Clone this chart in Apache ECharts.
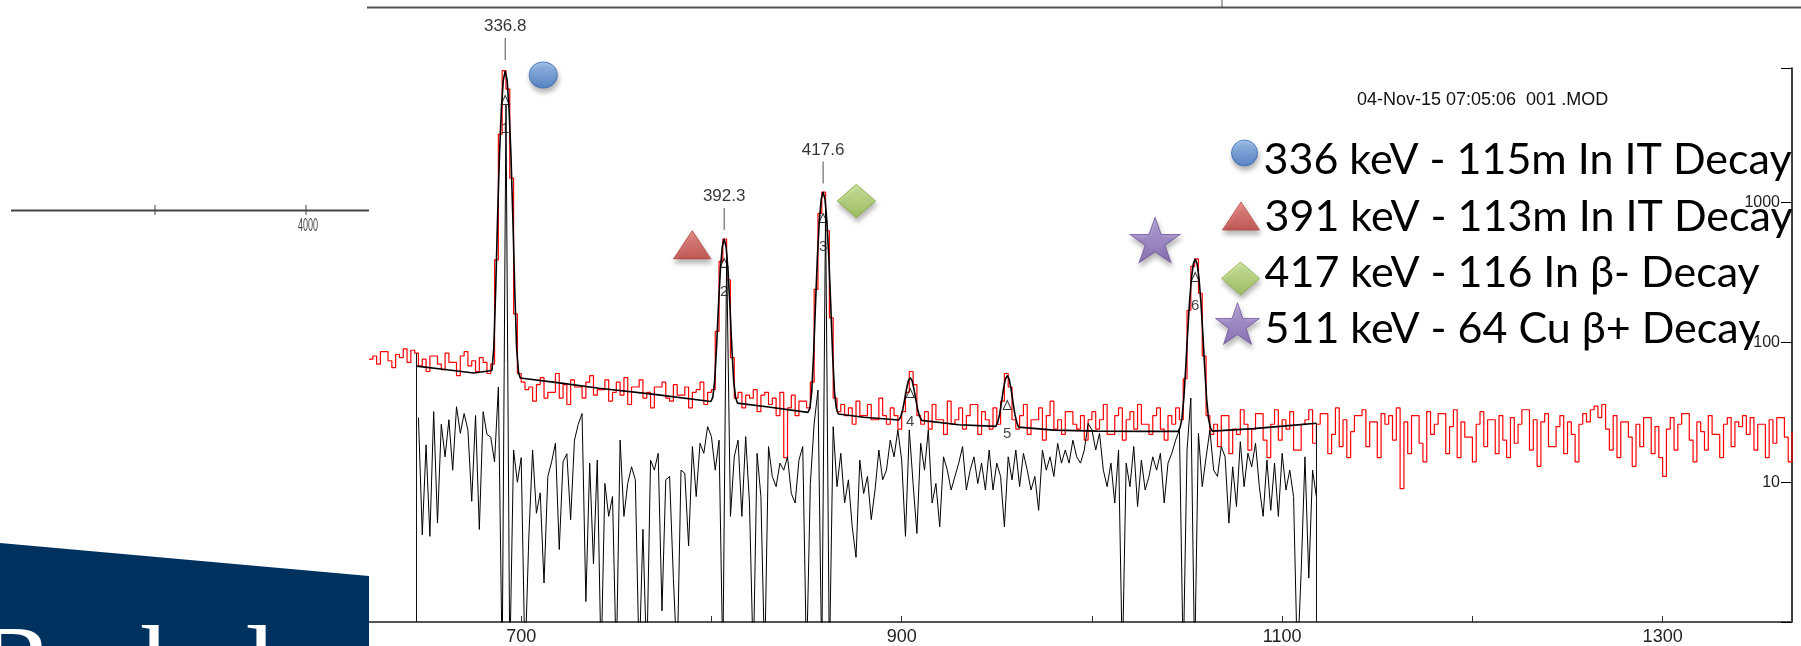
<!DOCTYPE html>
<html><head><meta charset="utf-8">
<script src="https://cdn.jsdelivr.net/npm/echarts@6/dist/echarts.min.js"></script>
<style>html,body{margin:0;padding:0;background:#fff;overflow:hidden}#c{width:1801px;height:646px}</style>
</head><body><div id="c"></div>
<script>
// ---------- data ----------
const redStart = 620, redStep = 2;   // channel of first bin, bin width (channels)
const redCounts = [
 76,80,70,86,86,74,66,82,78,90,
 72,88,84,68,76,62,80,80,70,64,
 84,72,72,58,80,86,68,74,62,78,
 72,60,70,390,3100,8800,6500,1500,160,60,
 52,46,48,38,50,56,40,44,44,60,
 40,50,36,54,48,48,40,52,58,42,
 46,46,54,38,44,52,42,56,36,48,
 48,54,40,44,34,48,48,52,40,38,
 50,42,42,48,34,44,46,52,36,44,
 46,120,380,550,280,78,40,44,34,42,
 40,46,32,42,44,36,40,30,44,15,
 34,42,30,38,38,34,
 52,240,840,1190,630,150,40,32,36,30,
 34,26,38,30,30,36,28,28,40,30,
 26,34,30,24,32,44,62,50,30,26,
 32,24,36,28,28,22,38,26,28,34,24,30,36,36,22,32,28,24,34,26,
 38,60,48,28,
 24,30,36,22,28,28,34,20,30,38,24,28,22,32,32,26,24,30,20,28,
 32,24,28,36,22,22,30,34,20,28,32,24,36,26,26,22,30,34,24,20,30,26,34,
 28,55,170,350,396,225,80,30,22,
 26,18,30,30,16,24,22,33,26,17,24,31,31,20,15,26,33,20,28,
 24,32,17,17,26,28,33,19,26,31,31,16,22,34,18,28,15,23,30,30,
 33,18,27,27,15,31,26,30,20,34,9,27,16,30,30,19,14,32,22,26,
 31,31,16,25,33,15,27,21,21,14,26,32,18,28,28,16,30,20,15,29,
 19,26,33,33,17,28,13,27,31,18,18,25,30,16,27,22,14,26,31,27,
 33,35,29,36,24,17,30,15,27,27,21,13,26,18,29,29,16,25,15,11,
 24,29,17,26,31,31,20,14,27,23,17,30,22,22,15,26,29,18,27,25,
 30,22,29,17,26,26,15,28,19,29,29,21,14,23
];
const resStart = 646, resStep = 2;
const residual = [
 29,4.2,18.5,4.1,32,5.1,26,15.2,28,12.2,
 34.7,22.4,31,23.6,7.3,30,4.6,32,22,21,
 14,48,0.5,5000,0.5,17,10,15,0.5,4,
 17,6,8.4,1.9,11,14,19,3.3,14,16,
 5.4,20,26,31,1.4,13.7,2.6,14.4,0.5,9.8,
 5.7,7.9,0.5,20,5.7,9.8,12.9,10.4,0.5,4.6,
 0.5,14.4,12.2,16.1,1.2,10.4,11,2.05,0.5,12.2,
 11.6,3.5,18,7.9,19,16.1,25,21.2,12.2,20,
 0.5,420,5.7,15.2,20,5.7,21.2,7.1,0.5,16.1,
 7.9,0.5,18,11,9.3,13.7,12.2,15.2,8.3,7.1,
 14.4,18,0.5,9.8,26.4,45.6,0.5,900,0.5,25,
 9.3,16.1,7.1,10.4,4.8,2.9,14.4,8.3,11,5.4,
 8.8,17,10.4,12.2,20,15.2,23.7,14.4,4.1,23.7,
 9.8,4.3,19,12.2,23.7,7.1,9.8,4.8,15.2,12.2,
 8.8,11,13.7,18,8.8,12.2,15.2,9.8,13.7,8.8,
 17,8.8,13.7,11,4.8,15.2,10.4,17,9.3,16.1,
 12.2,8.8,11,6.3,17,12.2,15.2,11,19,13.7,
 17,13.7,20,15.2,13.7,17,26.4,23.7,17,22.4,
 12.2,9.3,13.7,7.1,17,0.5,13.7,9.3,18,6.7,
 14.4,8.8,11,15.2,12.2,16.1,7.1,13.7,16.1,20,
 23.7,0.5,17,40,0.5,22.4,9.3,15,23.6,12.2,
 11,18,15.2,5.1,12.9,6.7,19.5,9.3,16.1,12.9,
 19,9.3,5.7,14.4,6.3,13.7,5.7,16.1,8.8,12.2,
 7.9,0.5,2.3,15.2,2.06,12.2,7.9
];
const fitCh = [645,660,675,684.6,685.6,686.6,687.6,688.6,689.6,690.6,691.6,692.6,693.6,694.6,695.6,696.6,697.6,698.6,699.5,720,741,770,
 799.7,800.7,801.7,802.7,803.7,804.7,805.7,806.7,807.7,808.7,809.7,810.7,811.7,812.7,813.7,830,
 850.7,851.7,852.7,853.7,854.7,855.7,856.7,857.7,858.7,859.7,860.7,861.7,862.7,863.7,864.7,865.7,866.7,880,
 898.5,899.5,900.5,901.5,902.5,903.5,904.5,905.5,906.5,907.5,908.5,909.5,910.5,930,
 949.5,950.5,951.5,952.5,953.5,954.5,955.5,956.5,957.5,958.5,959.5,960.5,961.5,980,1003,1030,
 1045.3,1046.3,1047.3,1048.3,1049.3,1050.3,1051.3,1052.3,1053.3,1054.3,1055.3,1056.3,1057.3,1058.3,1059.3,1060.3,1061.3,1062.3,1063.3,1085,1102,1118];
const fitCounts = [67.7,64,60.5,63,91,241,795,2227,4754,7524,8770,7524,4754,2227,795,241,91,61,55.7,51.4,47,42.5,
 37.8,40.5,53,93,184,332,484,550,484,332,184,93,53,40.5,36.8,34.5,
 31.6,33.6,44,82,188,409,736,1057,1194,1057,736,409,188,82,44,33.6,30.8,29.2,
 27.9,29.4,32.7,38.6,46.2,53.2,56,53.2,46.2,38.6,32.7,29.4,27.7,25.8,
 25.1,26.9,30.7,37.6,46.6,54.7,58,54.7,46.6,37.6,30.7,26.9,24.8,23.6,23.2,23.1,
 23.1,24.5,28.4,39.5,65.5,116,194,287,365,396,365,287,194,116,65.5,39.5,28.4,24.5,23.2,24.2,25.3,26.4];
const regionCh = [645, 1118];
const regionTop = [84, 26.4];
const xTickValues = [700,800,900,1000,1100,1200,1300];
const xLabelValues = [700,900,1100,1300];
const yLabelValues = [10,100,1000];
const peakCh = [691.6, 806.7, 858.7, 904.5, 955.5, 1054.3];
const peakNums = ['1','2','3','4','5','6'];
const peakMarkY = [5435, 371, 778, 43.5, 35.7, 294];
const energyText = ['336.8','392.3','417.6'];
const energyY = [12600, 765, 1645];
const decayNames = ['336 keV - 115m In IT Decay','391 keV - 113m In IT Decay','417 keV - 116 In β- Decay','511 keV - 64 Cu β+ Decay'];
const decayCh = [711.6, 789.9, 876.2, 1033.2];
const decayY = [8206, 499, 1029, 541];
const stampText = '04-Nov-15 07:05:06  001 .MOD';
const otherAxisLabel = '4000';
const logoText = 'Berkeley';

// ---------- styles ----------
const starPath = 'path://M50 0L61.8 35.1L98.9 35.1L69.1 57L80.9 92.7L50 70.7L19.1 92.7L30.9 57L1.1 35.1L38.2 35.1Z';
const grad = (a, b) => ({type:'linear', x:0, y:0, x2:0, y2:1, colorStops:[{offset:0, color:a},{offset:1, color:b}]});
const decayStyle = [
  {symbol:'circle',   size:[28,26], color:grad('#8fbaf0','#3e75c5'), border:'#3a6cb2'},
  {symbol:'triangle', size:[37,28], color:grad('#ee7d78','#c03f3b'), border:'#b3443f'},
  {symbol:'diamond',  size:[38,33], color:grad('#cbe892','#96bd4d'), border:'#89ab49'},
  {symbol:starPath,   size:[50,45], color:grad('#b6a0e0','#7a5cae'), border:'#6f55a0'}
];
const legendBox = [
  {left:1231, top:124.5, w:28, h:26, pad:[14,0,0,0]},
  {left:1222, top:193.5, w:37, h:28, pad:[2,0,0,0]},
  {left:1221, top:251.5, w:38, h:33, pad:[0,0,11,0]},
  {left:1215, top:296,   w:44, h:45, pad:[12,0,0,0]}
];
const shadow = {shadowBlur:5, shadowOffsetX:1, shadowOffsetY:4, shadowColor:'rgba(0,0,0,0.35)'};

const chart = echarts.init(document.getElementById('c'), null, {renderer:'canvas'});

const redData = redCounts.map((v, i) => [redStart + i * redStep, v]);
const resData = residual.map((v, i) => [resStart + i * resStep, v]);
const fitData = fitCh.map((c, i) => [c, fitCounts[i]]);

const series = [
  {type:'line', name:'spectrum', data:redData, step:'end', symbol:'none', silent:true, z:2,
   lineStyle:{color:'#ff0000', width:1.2}},
  {type:'line', name:'residual', data:resData, symbol:'none', silent:true, z:3,
   lineStyle:{color:'#000', width:1},
   markLine:{symbol:'none', silent:true, label:{show:false}, lineStyle:{color:'#111', width:1, type:'solid'},
     data: regionCh.map((c, i) => [{coord:[c, 1]}, {coord:[c, regionTop[i]]}])}},
  {type:'line', name:'fit', data:fitData, symbol:'none', silent:true, z:4,
   lineStyle:{color:'#000', width:1.6}},
  {type:'scatter', name:'peaks', data:peakCh.map((c, i) => [c, peakMarkY[i]]), symbol:'triangle', symbolSize:[8,9],
   clip:false, silent:true, z:5,
   itemStyle:{color:'rgba(0,0,0,0)', borderColor:'#000', borderWidth:1},
   label:{show:true, position:'bottom', distance:16, color:'#111', fontSize:15, fontFamily:'Liberation Sans',
     formatter:p => peakNums[p.dataIndex]}},
  {type:'scatter', name:'energies', data:energyText.map((t, i) => [peakCh[i], energyY[i]]), symbol:'rect', symbolSize:[1,22],
   clip:false, silent:true, z:5, itemStyle:{color:'#222'},
   label:{show:true, position:'top', distance:3, color:'#000', fontSize:17, fontFamily:'Liberation Sans',
     formatter:p => energyText[p.dataIndex]}}
];
decayNames.forEach((n, i) => {
  series.push({type:'scatter', name:n, data:[[decayCh[i], decayY[i]]], symbol:decayStyle[i].symbol,
    symbolSize:decayStyle[i].size, clip:false, silent:true, z:6,
    itemStyle:Object.assign({color:decayStyle[i].color, borderColor:decayStyle[i].border, borderWidth:1}, shadow)});
});

const legends = decayNames.map((n, i) => ({
  data:[{name:n, icon:decayStyle[i].symbol,
    itemStyle:Object.assign({color:decayStyle[i].color, borderColor:decayStyle[i].border, borderWidth:1}, shadow)}],
  left:legendBox[i].left, top:legendBox[i].top, padding:0, selectedMode:false,
  itemWidth:legendBox[i].w, itemHeight:legendBox[i].h,
  formatter:'{t|{name}}',
  textStyle:{color:'#000', rich:{t:{fontFamily:'Lato', fontSize:43, color:'#000', lineHeight:legendBox[i].h, padding:legendBox[i].pad}}}
}));

const option = {
  animation:false,
  backgroundColor:'#fff',
  title:{text:stampText, left:1357, top:91, padding:0,
    textStyle:{fontSize:18, fontWeight:'normal', fontFamily:'Liberation Sans', color:'#111'}},
  legend:legends,
  grid:{left:369, right:9, top:68, bottom:24},
  xAxis:{type:'value', min:620, max:1368,
    axisLine:{lineStyle:{color:'#555', width:2}},
    axisTick:{inside:true, length:6, lineStyle:{color:'#333'}, customValues:xTickValues},
    axisLabel:{customValues:xLabelValues, fontSize:18, color:'#222', fontFamily:'Liberation Sans', margin:6,
      formatter:v => String(v)},
    splitLine:{show:false}},
  yAxis:{type:'log', logBase:10, min:1, max:9200, position:'right',
    axisLine:{show:true, lineStyle:{color:'#000', width:1.5}},
    axisTick:{show:true, inside:true, length:11, lineStyle:{color:'#000'}},
    axisLabel:{inside:true, margin:12, fontSize:16, color:'#222', fontFamily:'Liberation Sans',
      formatter:v => yLabelValues.indexOf(Math.round(v)) >= 0 ? String(Math.round(v)) : ''},
    splitLine:{show:false}},
  series:series,
  graphic:[
    {type:'polygon', shape:{points:[[0,543],[369,576],[369,646],[0,646]]}, style:{fill:'#00325f'}, z:10},
    {type:'text', x:-22, y:618, z:11, style:{text:logoText, font:'112px "Liberation Serif"', fill:'#fff', verticalAlign:'top'}},
    {type:'line', shape:{x1:11, y1:210.5, x2:369, y2:210.5}, style:{stroke:'#444', lineWidth:2}},
    {type:'line', shape:{x1:155, y1:205, x2:155, y2:215}, style:{stroke:'#444', lineWidth:1}},
    {type:'line', shape:{x1:306, y1:205, x2:306, y2:215}, style:{stroke:'#444', lineWidth:1}},
    {type:'text', x:308, y:217, scaleX:0.5, originX:0, originY:0, style:{text:otherAxisLabel, font:'18px "Liberation Sans"', fill:'#444', align:'center', verticalAlign:'top'}},
    {type:'line', shape:{x1:367, y1:7.5, x2:1801, y2:7.5}, style:{stroke:'#555', lineWidth:2}},
    {type:'line', shape:{x1:1222, y1:0, x2:1222, y2:7}, style:{stroke:'#555', lineWidth:1}}
  ]
};
chart.setOption(option);
</script>
</body></html>
